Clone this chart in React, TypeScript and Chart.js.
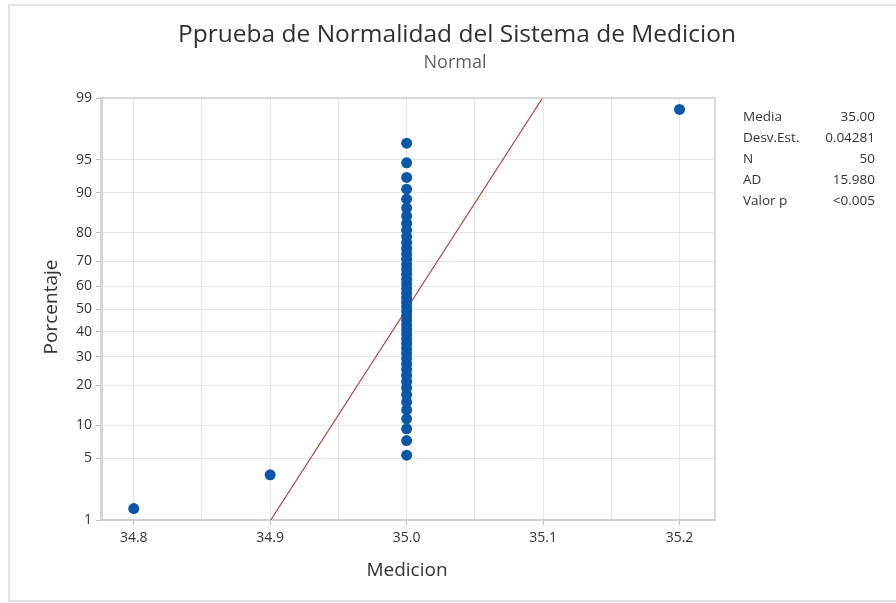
import React, { useEffect, useRef } from "react";
import { Chart, registerables } from "chart.js";
Chart.register(...registerables);

const TITLE = "Pprueba de Normalidad del Sistema de Medicion";
const SUBTITLE = "Normal";
const X_TITLE = "Medicion";
const Y_TITLE = "Porcentaje";

const medicion = [
  34.8, 34.9, 35.0, 35.0, 35.0, 35.0, 35.0, 35.0, 35.0, 35.0,
  35.0, 35.0, 35.0, 35.0, 35.0, 35.0, 35.0, 35.0, 35.0, 35.0,
  35.0, 35.0, 35.0, 35.0, 35.0, 35.0, 35.0, 35.0, 35.0, 35.0,
  35.0, 35.0, 35.0, 35.0, 35.0, 35.0, 35.0, 35.0, 35.0, 35.0,
  35.0, 35.0, 35.0, 35.0, 35.0, 35.0, 35.0, 35.0, 35.0, 35.2,
];
const porcentaje = [
  1.389, 3.373, 5.357, 7.341, 9.325, 11.310, 13.294, 15.278, 17.262, 19.246,
  21.230, 23.214, 25.198, 27.183, 29.167, 31.151, 33.135, 35.119, 37.103, 39.087,
  41.071, 43.056, 45.040, 47.024, 49.008, 50.992, 52.976, 54.960, 56.944, 58.929,
  60.913, 62.897, 64.881, 66.865, 68.849, 70.833, 72.817, 74.802, 76.786, 78.770,
  80.754, 82.738, 84.722, 86.706, 88.690, 90.675, 92.659, 94.643, 96.627, 98.611,
];
const yTickPercents = [1, 5, 10, 20, 30, 40, 50, 60, 70, 80, 90, 95, 99];
const xTickValues = [34.8, 34.85, 34.9, 34.95, 35.0, 35.05, 35.1, 35.15, 35.2];
const xLabelValues = [34.8, 34.9, 35.0, 35.1, 35.2];
const fitMean = 35.0;
const fitSd = 0.04281;
const fitPercents = [1, 99];
const statLabels = ["Media", "Desv.Est.", "N", "AD", "Valor p"];
const statValues = ["35.00", "0.04281", "50", "15.980", "<0.005"];

// inverse standard normal CDF (Acklam)
function probit(p: number): number {
  const a = [-3.969683028665376e1, 2.209460984245205e2, -2.759285104469687e2, 1.38357751867269e2, -3.066479806614716e1, 2.506628277459239];
  const b = [-5.447609879822406e1, 1.615858368580409e2, -1.556989798598866e2, 6.680131188771972e1, -1.328068155288572e1];
  const c = [-7.784894002430293e-3, -3.223964580411365e-1, -2.400758277161838, -2.549732539343734, 4.374664141464968, 2.938163982698783];
  const d = [7.784695709041462e-3, 3.224671290700398e-1, 2.445134137142996, 3.754408661907416];
  const pl = 0.02425;
  if (p < pl) {
    const q = Math.sqrt(-2 * Math.log(p));
    return (((((c[0] * q + c[1]) * q + c[2]) * q + c[3]) * q + c[4]) * q + c[5]) / ((((d[0] * q + d[1]) * q + d[2]) * q + d[3]) * q + 1);
  }
  if (p > 1 - pl) {
    const q = Math.sqrt(-2 * Math.log(1 - p));
    return -(((((c[0] * q + c[1]) * q + c[2]) * q + c[3]) * q + c[4]) * q + c[5]) / ((((d[0] * q + d[1]) * q + d[2]) * q + d[3]) * q + 1);
  }
  const q = p - 0.5;
  const r = q * q;
  return ((((((a[0] * r + a[1]) * r + a[2]) * r + a[3]) * r + a[4]) * r + a[5]) * q) / (((((b[0] * r + b[1]) * r + b[2]) * r + b[3]) * r + b[4]) * r + 1);
}

const FONT = "'Open Sans', 'Noto Sans', sans-serif";
const TEXT = "#333333";

export default function App() {
  const ref = useRef<HTMLCanvasElement | null>(null);
  useEffect(() => {
    document.body.style.margin = "0";
    const canvas = ref.current!;
    const zFromPct = (p: number) => probit(p / 100);
    const points = medicion.map((x, i) => ({ x, y: zFromPct(porcentaje[i]) }));
    const fit = fitPercents.map((p) => ({ x: fitMean + probit(p / 100) * fitSd, y: zFromPct(p) }));

    const decor = {
      id: "decor",
      beforeDraw(chart: any) {
        const ctx = chart.ctx;
        ctx.save();
        ctx.fillStyle = "#ffffff";
        ctx.fillRect(0, 0, chart.width, chart.height);
        ctx.restore();
      },
      afterDraw(chart: any) {
        const ctx = chart.ctx;
        const a = chart.chartArea;
        ctx.save();
        // outer frame
        ctx.strokeStyle = "#e2e2e2";
        ctx.lineWidth = 2;
        ctx.strokeRect(9, 5, chart.width + 20, 596);
        // plot frame top/right
        ctx.strokeStyle = "#cfcfcf";
        ctx.lineWidth = 1.5;
        ctx.beginPath();
        ctx.moveTo(a.left, a.top);
        ctx.lineTo(a.right, a.top);
        ctx.lineTo(a.right, a.bottom);
        ctx.stroke();
        // titles
        ctx.textAlign = "center";
        ctx.textBaseline = "middle";
        ctx.fillStyle = "#303030";
        ctx.font = `24.5px ${FONT}`;
        ctx.fillText(TITLE, 457, 35);
        ctx.fillStyle = "#606060";
        ctx.font = `18px ${FONT}`;
        ctx.fillText(SUBTITLE, 455, 63);
        ctx.fillStyle = TEXT;
        ctx.font = `19px ${FONT}`;
        ctx.fillText(X_TITLE, 407, 571);
        ctx.save();
        ctx.translate(52, 307);
        ctx.rotate(-Math.PI / 2);
        ctx.fillText(Y_TITLE, 0, 0);
        ctx.restore();
        // stats
        ctx.font = `13.5px ${FONT}`;
        statLabels.forEach((lab, i) => {
          const y = 117 + i * 21;
          ctx.textAlign = "left";
          ctx.fillText(lab, 743, y);
          ctx.textAlign = "right";
          ctx.fillText(statValues[i], 875, y);
        });
        ctx.restore();
      },
    };

    const chart = new Chart(canvas, {
      type: "scatter",
      data: {
        datasets: [
          {
            type: "line",
            data: fit,
            borderColor: "#b8403c",
            borderWidth: 1.2,
            pointRadius: 0,
            order: 2,
          },
          {
            data: points,
            backgroundColor: "#0a56a8",
            borderWidth: 0,
            pointRadius: 5.5,
            pointHoverRadius: 5.5,
            order: 1,
          },
        ],
      },
      options: {
        responsive: false,
        animation: false,
        devicePixelRatio: 1,
        events: [],
        layout: { padding: { left: 40, right: 181, top: 98, bottom: 0 } },
        plugins: { legend: { display: false }, tooltip: { enabled: false } },
        scales: {
          x: {
            type: "linear",
            min: 34.776,
            max: 35.226,
            afterFit: (s: any) => { s.height = 83; },
            afterBuildTicks: (s: any) => { s.ticks = xTickValues.map((v) => ({ value: v })); },
            ticks: {
              padding: 5,
              color: TEXT,
              font: { family: FONT, size: 14 },
              maxRotation: 0,
              autoSkip: false,
              callback: (v: any) => {
                const m = xLabelValues.find((t) => Math.abs(t - v) < 1e-6);
                return m === undefined ? "" : m.toFixed(1);
              },
            },
            grid: {
              color: "#e6e6e6",
              lineWidth: 1,
              tickLength: 5,
              tickColor: (c: any) => {
                const v = c.tick ? c.tick.value : NaN;
                return xLabelValues.some((t) => Math.abs(t - v) < 1e-6) ? "#bdbdbd" : "rgba(0,0,0,0)";
              },
            },
            border: { display: true, color: "#cfcfcf", width: 2 },
          },
          y: {
            type: "linear",
            min: probit(0.01),
            max: probit(0.99),
            afterFit: (s: any) => { s.width = 61; },
            afterBuildTicks: (s: any) => { s.ticks = yTickPercents.map((p) => ({ value: probit(p / 100) })); },
            ticks: {
              padding: 4,
              color: TEXT,
              font: { family: FONT, size: 14 },
              autoSkip: false,
              callback: (_v: any, i: number) => String(yTickPercents[i]),
            },
            grid: { color: "#e6e6e6", lineWidth: 1, tickLength: 5, tickColor: "#bdbdbd" },
            border: { display: true, color: "#d4d4d4", width: 3 },
          },
        },
      },
      plugins: [decor],
    } as any);
    return () => chart.destroy();
  }, []);
  return <canvas ref={ref} width={896} height={603} style={{ display: "block" }} />;
}
